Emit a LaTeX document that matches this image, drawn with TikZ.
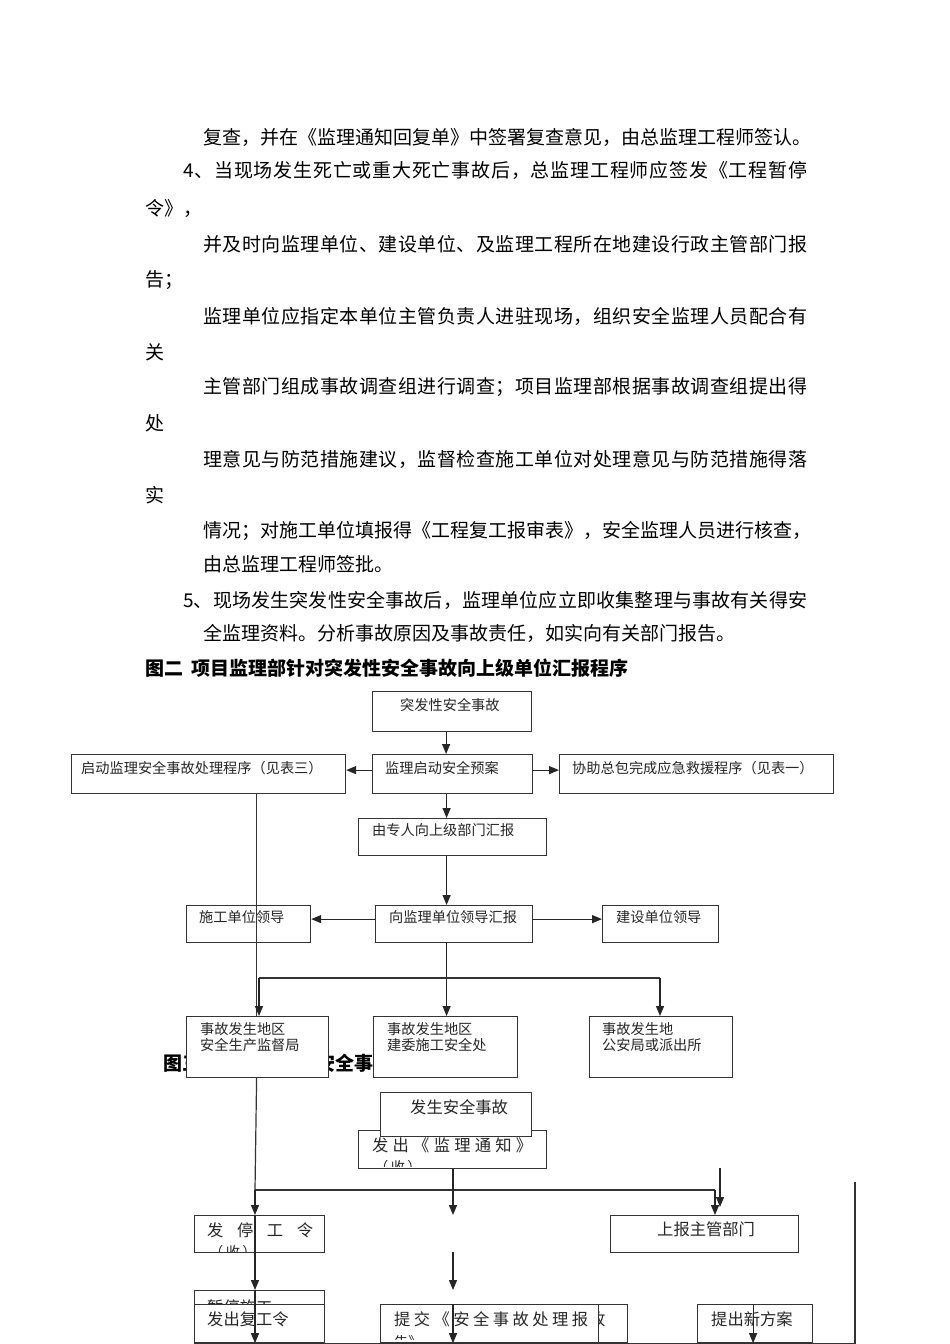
\documentclass[tikz,border=0pt]{standalone}
\usepackage{fontspec}
\newfontfamily\cjk{Noto Sans CJK SC}
\usetikzlibrary{arrows.meta,calc}
\def\spfirst#1{#1\sprest}
\def\sprest#1{\ifx\relax#1\else\hfill#1\expandafter\sprest\fi}
\newcommand\jl[2]{\makebox[#1pt][l]{\spfirst#2\relax}}
\begin{document}
\begin{tikzpicture}[x=1pt,y=-1pt,
  body/.style={font=\cjk\fontsize{19}{19}\selectfont, anchor=west, inner sep=0pt, text=black},
  head/.style={font=\cjk\bfseries\fontsize{19}{19}\selectfont, anchor=west, inner sep=0pt, text=black},
  box/.style={draw=black!80, line width=1.2pt, fill=white, rectangle, inner sep=0pt, anchor=north west},
  tf/.style={font=\cjk\fontsize{14.2}{16}\selectfont, anchor=west, inner sep=0pt, text=black!85},
  tg/.style={font=\cjk\fontsize{16.3}{18}\selectfont, anchor=west, inner sep=0pt, text=black!85},
  ln/.style={line width=1.2pt, draw=black!80},
  arr/.style={line width=1.2pt, draw=black!85, -{Triangle[length=10pt,width=8pt]}}]
\useasboundingbox (0,0) rectangle (950,1344);
\fill[white] (0,0) rectangle (950,1344);

% ---------- body text ----------
\node[body] (t1) at (203,137) {\jl{606}{复查，并在《监理通知回复单》中签署复查意见，由总监理工程师签认。}};
\node[body] (t2) at (183,170) {\jl{624}{4、当现场发生死亡或重大死亡事故后，总监理工程师应签发《工程暂停}};
\node[body] (t3) at (145,208) {令》，};
\node[body] (t4) at (203,244) {\jl{604}{并及时向监理单位、建设单位、及监理工程所在地建设行政主管部门报}};
\node[body] (t5) at (145,280) {告；};
\node[body] (t6) at (203,316) {\jl{604}{监理单位应指定本单位主管负责人进驻现场，组织安全监理人员配合有}};
\node[body] (t7) at (145,352) {关};
\node[body] (t8) at (203,387) {\jl{604}{主管部门组成事故调查组进行调查；项目监理部根据事故调查组提出得}};
\node[body] (t9) at (145,423) {处};
\node[body] (t10) at (203,459) {\jl{604}{理意见与防范措施建议，监督检查施工单位对处理意见与防范措施得落}};
\node[body] (t11) at (145,495) {实};
\node[body] (t12) at (203,531) {\jl{607}{情况；对施工单位填报得《工程复工报审表》，安全监理人员进行核查，}};
\node[body] (t13) at (203,564) {由总监理工程师签批。};
\node[body] (t14) at (183,600) {\jl{624}{5、现场发生突发性安全事故后，监理单位应立即收集整理与事故有关得安}};
\node[body] (t15) at (203,633) {全监理资料。分析事故原因及事故责任，如实向有关部门报告。};
\node[head] (h2) at (145,668) {图二\hspace{8pt}项目监理部针对突发性安全事故向上级单位汇报程序};

% ---------- figure 2 ----------
\node[box, minimum width=159pt, minimum height=40pt] (A) at (372,691) {};
\node[tf] (Atx) at (400,705) {突发性安全事故};
\node[box, minimum width=160pt, minimum height=39pt] (B) at (372,754) {};
\node[tf] (Btx) at (385,768) {监理启动安全预案};
\node[box, minimum width=274pt, minimum height=39pt] (C) at (71,754) {};
\node[tf] (Ctx) at (81,768) {启动监理安全事故处理程序（见表三）};
\node[box, minimum width=274pt, minimum height=39pt] (D) at (559,754) {};
\node[tf] (Dtx) at (572,768) {协助总包完成应急救援程序（见表一）};
\node[box, minimum width=188pt, minimum height=37pt] (E) at (358,818) {};
\node[tf] (Etx) at (372,830) {由专人向上级部门汇报};
\node[box, minimum width=157pt, minimum height=37pt] (F) at (375,905) {};
\node[tf] (Ftx) at (389,917) {向监理单位领导汇报};
\node[box, minimum width=124pt, minimum height=37pt] (G) at (186,905) {};
\node[tf] (Gtx) at (199,917) {施工单位领导};
\node[box, minimum width=116pt, minimum height=37pt] (H) at (602,905) {};
\node[tf] (Htx) at (616,917) {建设单位领导};

\draw[arr] ([xshift=-6pt]A.south) -- ([xshift=-6pt]A.south |- B.north);
\draw[arr] ([yshift=4pt]B.west) -- ([yshift=4pt]B.west -| C.east);
\draw[arr] ([yshift=4pt]B.east) -- ([yshift=4pt]B.east -| D.west);
\draw[arr] ([xshift=-6pt]B.south) -- ([xshift=-6pt]B.south |- E.north);
\draw[arr] ([xshift=-6pt]E.south) -- ([xshift=-6pt]E.south |- F.north);
\draw[arr] ([yshift=5pt]F.west) -- ([yshift=5pt]F.west -| G.east);
\draw[arr] ([yshift=5pt]F.east) -- ([yshift=5pt]F.east -| H.west);

\coordinate (c1) at ([xshift=48pt]C.south);

% heading of figure 3 (mostly covered)
\node[head] (h3) at (163,1063) {图三\hspace{20pt}项目监理部安全事故处理程序};

\node[box, minimum width=142pt, minimum height=61pt] (I) at (186,1016) {};
\node[tf] (Itx1) at (200,1029) {事故发生地区};
\node[tf] (Itx2) at (200,1045) {安全生产监督局};
\node[box, minimum width=144pt, minimum height=61pt] (J) at (373,1016) {};
\node[tf] (Jtx1) at (387,1029) {事故发生地区};
\node[tf] (Jtx2) at (387,1045) {建委施工安全处};
\node[box, minimum width=143pt, minimum height=61pt] (K) at (589,1016) {};
\node[tf] (Ktx1) at (602,1029) {事故发生地};
\node[tf] (Ktx2) at (602,1045) {公安局或派出所};

\draw[ln] (c1) -- (c1 |- I.north);
\draw[arr] ([xshift=-7.5pt]F.south) -- ([xshift=-7.5pt]F.south |- J.north);
\coordinate (bl) at (259,978);
\coordinate (brr) at (660,978);
\draw[ln] (bl) -- (brr);
\draw[arr] (bl) -- (bl |- I.north);
\draw[arr] (brr) -- (brr |- K.north);

% ---------- figure 3 ----------
\node[box, minimum width=188pt, minimum height=38pt] (M) at (358,1130) {};
\node[tg] (Mtx) at (372,1145) {\jl{160}{发出《监理通知》}};
\begin{scope}
\clip (359,1131) rectangle (545,1166);
\node[tf] (Mtx2) at (374,1167) {（\,收\,）};
\end{scope}
\node[box, minimum width=151pt, minimum height=44pt] (L) at (380,1092) {};
\node[tg] (Ltx) at (410,1107) {发生安全事故};

\node[box, minimum width=130pt, minimum height=37pt] (N) at (194,1215) {};
\node[tg] (Ntx) at (207,1230) {\jl{106}{发停工令}};
\begin{scope}
\clip (195,1216) rectangle (323,1251);
\node[tf] (Ntx2) at (209,1252) {（\,收\,）};
\end{scope}
\node[box, minimum width=188pt, minimum height=37pt] (O) at (610,1215) {};
\node[tg] (Otx) at (657,1229) {上报主管部门};

\node[box, minimum width=130pt, minimum height=54pt] (P) at (194,1290) {};
\node[tg] (Ptx) at (207,1307) {暂停施工};
\node[box, minimum width=130pt, minimum height=38pt] (Q) at (194,1304) {};
\node[tg] (Qtx) at (207,1319) {发出复工令};

\node[box, minimum width=247pt, minimum height=38pt] (R2) at (380,1304) {};
\node[tg] (R2tx) at (589,1319) {收};
\node[box, minimum width=218pt, minimum height=38pt] (R) at (380,1304) {};
\node[tg] (Rtx) at (394,1319) {\jl{194}{提交《安全事故处理报}};
\begin{scope}
\clip (381,1305) rectangle (597,1339);
\node[tf] (Rtx2) at (394,1342) {告》};
\end{scope}
\node[box, minimum width=115pt, minimum height=38pt] (S) at (697,1304) {};
\node[tg] (Stx) at (711,1319) {提出新方案};

% connectors of figure 3
\coordinate (j1) at (255,1190);
\coordinate (j2) at (715,1190);
\draw[ln] (c1 |- I.south) -- (j1);
\draw[ln] (j1) -- (j2);
\draw[arr] (j1) -- (j1 |- N.north);
\draw[arr] (j2) -- (j2 |- O.north);
\draw[arr] (j1 |- N.north) -- (j1 |- P.north);
\draw[arr] (j1 |- P.north) -- (j1 |- Q.south);

\coordinate (m2) at (453,1215);
\coordinate (m3) at (453,1252);
\coordinate (m4) at (453,1290);
\draw[arr] (M.south -| m2) -- (m2);
\draw[arr] (m3) -- (m4);
\draw[arr] (m2 |- R.north) -- (m2 |- R.south);

\coordinate (s1) at (720,1168);
\coordinate (s2) at (720,1207);
\draw[arr] (s1) -- (s2);

\draw[arr] ([xshift=-2pt]S.north) -- ([xshift=-2pt]S.south);

\coordinate (r1) at (855,1182);
\coordinate (r2) at (855,1344);
\draw[ln] (r1) -- (r2);
\draw[ln] (Q.south west) -- (Q.south west -| r1);
\end{tikzpicture}
\end{document}
